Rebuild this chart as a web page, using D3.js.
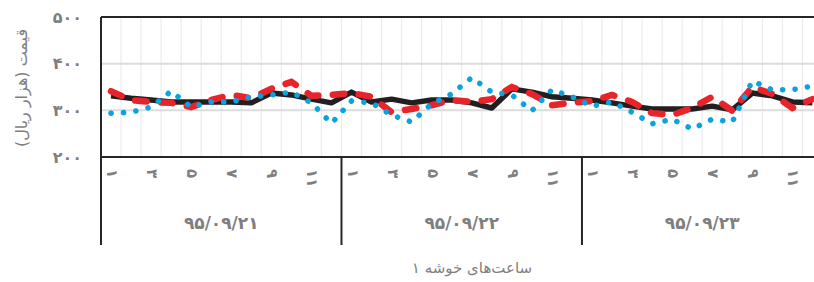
<!DOCTYPE html>
<html>
<head>
<meta charset="utf-8">
<script src="https://cdn.jsdelivr.net/npm/d3@7/dist/d3.min.js"></script>
<style>
  html, body { margin: 0; padding: 0; background: #fff; }
  svg { display: block; }
</style>
</head>
<body>
<svg id="chart" width="814" height="282"></svg>
<script>
// ---- Data ----
const dates = ["۹۵/۰۹/۲۱", "۹۵/۰۹/۲۲", "۹۵/۰۹/۲۳"];
const hourLabels = ["۱","۲","۳","۴","۵","۶","۷","۸","۹","۱۰","۱۱","۱۲"];
const yTickValues = [200, 300, 400, 500];
const yTickLabels = ["۲۰۰", "۳۰۰", "۴۰۰", "۵۰۰"];
const yTitle = "قیمت (هزار ریال)";
const xTitle = "ساعت\u200cهای خوشه ۱";

const seriesBlack = [331,326,322,318,318,318,318,316,337,333,324,316,
                     339,318,324,316,322,322,316,305,346,339,329,326,
                     322,316,309,303,303,303,309,301,337,331,318,316];
const seriesRed   = [341,322,318,316,307,322,333,326,346,361,331,333,
                     337,329,296,303,311,322,318,324,350,335,311,316,
                     320,333,318,294,290,305,329,299,350,335,305,324];
const seriesBlue  = [294,296,307,341,307,318,318,329,333,339,316,272,
                     320,316,290,275,314,335,370,339,333,299,344,329,
                     309,318,296,271,281,260,281,275,363,344,344,352];

// ---- Layout ----
const svg = d3.select("#chart");
const plotLeft = 101, plotTop = 17, plotBottom = 157;
const catW = 20.04;
const cats = [];
dates.forEach((d, di) => hourLabels.forEach((h, hi) => cats.push({key: di + "-" + hi, date: d, hour: h, hi})));
const x = d3.scaleBand().domain(cats.map(c => c.key)).range([plotLeft, plotLeft + catW * cats.length]).padding(0);
const y = d3.scaleLinear().domain([200, 500]).range([plotBottom, plotTop]);

const textGray = "#7f7f7f";

// vertical gridlines at category boundaries
svg.append("g").selectAll("line").data(cats.slice(1)).join("line")
  .attr("x1", c => x(c.key)).attr("x2", c => x(c.key))
  .attr("y1", plotTop).attr("y2", plotBottom)
  .attr("stroke", "#ececec").attr("stroke-width", 1.2);

// horizontal gridlines
svg.append("g").selectAll("line").data(yTickValues.filter(v => v > 200 && v < 500)).join("line")
  .attr("x1", plotLeft).attr("x2", 814)
  .attr("y1", d => y(d)).attr("y2", d => y(d))
  .attr("stroke", "#dcdcdc").attr("stroke-width", 2);

// y-axis labels
const yAxis = d3.axisLeft(y).tickValues(yTickValues)
  .tickFormat((d, i) => yTickLabels[i]).tickSize(0).tickPadding(19);
const gy = svg.append("g").attr("transform", `translate(${plotLeft},0)`).call(yAxis);
gy.select(".domain").remove();
gy.selectAll("text").attr("fill", textGray).attr("font-family", "DejaVu Sans")
  .attr("font-weight", "bold").attr("font-size", 16);

// lines
const line = d3.line().x((d, i) => x(cats[i].key) + x.bandwidth() / 2).y(d => y(d));
svg.append("path").datum(seriesBlack).attr("d", line)
  .attr("fill", "none").attr("stroke", "#231f20").attr("stroke-width", 5.5)
  .attr("stroke-linejoin", "round");
svg.append("path").datum(seriesRed).attr("d", line)
  .attr("fill", "none").attr("stroke", "#e8232a").attr("stroke-width", 6.5)
  .attr("stroke-linecap", "round").attr("stroke-dasharray", "11.5,14.5");
svg.append("path").datum(seriesBlue).attr("d", line)
  .attr("fill", "none").attr("stroke", "#0aa3e0").attr("stroke-width", 5.5)
  .attr("stroke-linecap", "round").attr("stroke-dasharray", "0.1,12.4");

// frame: top border, bottom axis
svg.append("line").attr("x1", plotLeft).attr("x2", 814).attr("y1", plotTop).attr("y2", plotTop)
  .attr("stroke", "#262626").attr("stroke-width", 2);
svg.append("line").attr("x1", plotLeft).attr("x2", 814).attr("y1", plotBottom).attr("y2", plotBottom)
  .attr("stroke", "#262626").attr("stroke-width", 2);
// date separators (including left axis)
const dayStarts = dates.map((d, di) => x(di + "-0"));
svg.append("g").selectAll("line").data(dayStarts).join("line")
  .attr("x1", d => d).attr("x2", d => d)
  .attr("y1", (d, i) => i === 0 ? plotTop : plotBottom).attr("y2", 245)
  .attr("stroke", "#262626").attr("stroke-width", 2);

// hour labels (rotated)
svg.append("g").selectAll("text").data(cats.filter(c => c.hi % 2 === 0)).join("text")
  .attr("transform", c => `translate(${x(c.key) + x.bandwidth() / 2 + 1},169) rotate(90)`)
  .attr("text-anchor", "start").attr("dominant-baseline", "central")
  .attr("fill", textGray).attr("font-family", "DejaVu Sans").attr("font-weight", "bold")
  .attr("font-size", 15).text(c => c.hour);

// date labels
svg.append("g").selectAll("text").data(dates).join("text")
  .attr("x", (d, i) => x(i + "-0") + catW * hourLabels.length / 2)
  .attr("y", 229).attr("text-anchor", "middle")
  .attr("fill", textGray).attr("font-family", "DejaVu Sans").attr("font-weight", "bold")
  .attr("font-size", 17).text(d => d);

// axis titles
svg.append("text").attr("transform", "translate(27,88) rotate(-90)")
  .attr("text-anchor", "middle").attr("direction", "rtl")
  .attr("fill", textGray).attr("font-family", "DejaVu Sans").attr("font-size", 16)
  .text(yTitle);
svg.append("text").attr("x", 472).attr("y", 273).attr("text-anchor", "middle")
  .attr("direction", "rtl")
  .attr("fill", textGray).attr("font-family", "DejaVu Sans").attr("font-size", 15)
  .text(xTitle);
</script>
</body>
</html>
